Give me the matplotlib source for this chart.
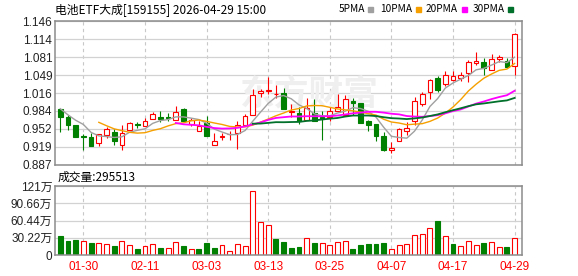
import matplotlib
matplotlib.use("Agg")
import matplotlib.pyplot as plt
import numpy as np
import pandas as pd
from matplotlib.patches import Rectangle

plt.rcParams["font.family"] = ["Liberation Sans", "Noto Sans CJK SC"]

title = "电池ETF大成[159155] 2026-04-29 15:00"
volume_text = "成交量:295513"

# closes of the 4 sessions before the visible window (needed for the MAs)
pre_close = [1.013, 0.986, 0.976, 0.992]

opens = [0.988, 0.973, 0.958, 0.9388, 0.9365, 0.9257, 0.9413, 0.9467, 0.9233, 0.9491,
         0.9600, 0.9576, 0.9702, 0.9732, 0.9732, 0.9684, 0.9877, 0.9612, 0.9473, 0.9624,
         0.9227, 0.9377, 0.9419, 0.9443, 0.9594, 0.9762, 1.016, 1.0196, 1.0142, 1.016,
         0.9823, 0.9804, 0.9684, 0.9798, 0.9738, 0.9738, 0.9847, 0.9774, 1.0015, 0.9985,
         0.9654, 0.9606, 0.9383, 0.913, 0.9293, 0.9486, 0.9654, 0.9967, 1.0178, 1.0437,
         1.0328, 1.0394, 1.0437, 1.0527, 1.0714, 1.0726, 1.0587, 1.0786, 1.0738, 1.0647]
highs = [0.988, 0.976, 0.958, 0.943, 0.944, 0.942, 0.9558, 0.9516, 0.9582, 0.9648,
         0.9648, 0.9714, 0.9816, 0.9835, 0.9798, 0.9931, 0.9895, 0.9714, 0.9654, 0.9744,
         0.9443, 0.9443, 0.9473, 0.9654, 0.9786, 1.0238, 1.0238, 1.0449, 1.0316, 1.0256,
         0.9967, 0.9907, 1.0075, 1.0057, 0.9835, 0.9907, 1.0148, 1.0136, 1.0075, 0.9985,
         0.9684, 0.961, 0.9461, 0.9281, 0.9534, 0.9636, 1.0093, 1.0184, 1.0425, 1.0467,
         1.0557, 1.0557, 1.0545, 1.0756, 1.0906, 1.0798, 1.087, 1.0846, 1.0798, 1.1249]
lows = [0.946, 0.949, 0.937, 0.913, 0.920, 0.9215, 0.9353, 0.9227, 0.9142, 0.949,
        0.9534, 0.957, 0.970, 0.9636, 0.9666, 0.968, 0.965, 0.9576, 0.947, 0.938,
        0.9225, 0.9323, 0.931, 0.916, 0.959, 0.976, 1.0087, 1.0148, 1.0075, 0.988,
        0.9726, 0.9606, 0.968, 0.9654, 0.9323, 0.9654, 0.984, 0.977, 0.9774, 0.962,
        0.9486, 0.9305, 0.9124, 0.9082, 0.929, 0.9401, 0.9582, 0.9925, 1.0063, 1.0184,
        1.0286, 1.039, 1.0376, 1.0358, 1.0665, 1.0497, 1.058, 1.0726, 1.0617, 1.0485]
closes = [0.973, 0.958, 0.9372, 0.9378, 0.9203, 0.942, 0.9516, 0.9293, 0.9437, 0.9618,
          0.9588, 0.9654, 0.9786, 0.969, 0.9708, 0.9829, 0.9654, 0.9672, 0.9564, 0.9383,
          0.9293, 0.9389, 0.9431, 0.9582, 0.9744, 1.0136, 1.0202, 1.022, 1.0154, 0.9883,
          0.9841, 0.9654, 0.9895, 0.9666, 0.9702, 0.9847, 0.9907, 1.0057, 0.9985, 0.9624,
          0.9594, 0.9383, 0.9142, 0.9172, 0.9516, 0.9534, 1.0015, 1.0148, 1.0394, 1.0226,
          1.0485, 1.048, 1.049, 1.0726, 1.0738, 1.0617, 1.0774, 1.081, 1.0629, 1.1231]
# volume in 万 (10k shares)
volumes = [33.3, 25.1, 26.3, 24.5, 21.0, 21.0, 19.3, 15.8, 24.5, 16.9,
           10.5, 15.2, 18.7, 12.3, 11.7, 22.2, 15.8, 10.5, 10.5, 21.0,
           12.3, 16.9, 6.4, 18.7, 15.8, 111.5, 57.2, 52.0, 28.0, 23.4,
           12.3, 14.0, 29.2, 21.0, 20.4, 16.9, 22.8, 24.5, 10.5, 17.5,
           19.3, 19.3, 21.0, 10.5, 16.9, 19.3, 34.5, 36.8, 46.7, 59.6,
           32.7, 19.3, 15.2, 24.5, 16.9, 21.0, 22.8, 14.0, 14.0, 29.55]

date_ticks = [3, 11, 19, 27, 35, 43, 51, 59]
date_labels = ["01-30", "02-11", "03-03", "03-13", "03-25", "04-07", "04-17", "04-29"]
price_ticks = [1.146, 1.114, 1.081, 1.049, 1.016, 0.984, 0.952, 0.919, 0.887]
vol_ticks = [0, 30.22, 60.44, 90.66, 120.88]
vol_labels = ["0", "30.22万", "60.44万", "90.66万", "121万"]

ma_windows = [5, 10, 20, 30]
ma_names = ["5PMA", "10PMA", "20PMA", "30PMA"]
ma_colors = ["#a0a0a0", "#f5a000", "#ff00ff", "#00702a"]

RED = "#ff0000"
GREEN = "#008000"
GRID = "#d2d2d2"
FRAME = "#8c8c8c"

W, H = 578, 276
fig = plt.figure(figsize=(W / 100, H / 100), dpi=100)
ax = fig.add_axes([55 / W, 1 - 164.7 / H, 467 / W, 143.4 / H])
axv = fig.add_axes([55 / W, 1 - 255 / H, 467 / W, 69 / H])

x = np.arange(len(closes))
o = np.array(opens)
c = np.array(closes)
up = c >= o
prev_close = np.array(pre_close[-1:] + closes[:-1])
vol_up = c >= prev_close

# candles
ax.vlines(x, lows, highs, colors=np.where(up, RED, GREEN), linewidth=0.8, zorder=2)
body_h = np.maximum(np.abs(c - o), 0.0012)
ax.bar(x, body_h, bottom=np.minimum(o, c), width=0.62,
       color=np.where(up, "white", GREEN), edgecolor=np.where(up, RED, GREEN),
       linewidth=0.8, zorder=2.5)

# moving averages
all_close = pd.Series(pre_close + closes)
for w, col in zip(ma_windows, ma_colors):
    ma = all_close.rolling(w).mean().iloc[len(pre_close):].to_numpy()
    ax.plot(x, ma, color=col, linewidth=1.0 if w < 20 else 1.3, zorder=3)

# volume
axv.bar(x, volumes, width=0.64, color=np.where(vol_up, "white", GREEN),
        edgecolor=np.where(vol_up, RED, GREEN), linewidth=0.8, zorder=2)

for a in (ax, axv):
    a.set_xlim(-0.69, 59.96)
    a.set_axisbelow(True)
    a.grid(axis="y", color=GRID, linewidth=0.9)
    for t in date_ticks:
        a.axvline(t, color="#c8c8c8", linewidth=0.8, linestyle=(0, (3, 3)), zorder=0.5)
    for s in a.spines.values():
        s.set_color(FRAME)
        s.set_linewidth(1.1)
    a.tick_params(length=0, labelsize=8.5, colors="#222222", pad=2)

ax.set_ylim(price_ticks[-1], price_ticks[0])
ax.set_yticks(price_ticks)
ax.set_yticklabels([f"{v:.3f}" for v in price_ticks])
ax.set_xticks([])

axv.set_ylim(0, vol_ticks[-1])
axv.set_yticks(vol_ticks)
axv.set_yticklabels(vol_labels)
axv.set_xticks(date_ticks)
axv.set_xticklabels(date_labels, color=RED)
axv.tick_params(axis="x", pad=4)

# watermark
ax.text(309 / W, 1 - 94.5 / H, "东方财富", transform=fig.transFigure, fontsize=25,
        fontweight="bold", color="#efefef", ha="center", va="center",
        family=["Noto Sans CJK SC"], zorder=0.6)

# header
fig.text(55 / W, 1 - 9.3 / H, title, fontsize=8.5, va="center",
         family=["Noto Sans CJK SC", "DejaVu Sans"])
legend_x = [339, 380, 426, 473]
square_x = [368, 416, 462, 508]
for name, col, lx, sx in zip(ma_names, ma_colors, legend_x, square_x):
    fig.text(lx / W, 1 - 9.3 / H, name, fontsize=7.3, va="center",
             family=["Noto Sans CJK SC", "DejaVu Sans"])
    fig.add_artist(Rectangle((sx / W, 1 - 11.5 / H), 5 / W, 4.5 / H, color=col,
                             transform=fig.transFigure))

fig.text(58 / W, 1 - 177.5 / H, volume_text, fontsize=8.5, va="center",
         family=["Noto Sans CJK SC", "DejaVu Sans"])

fig.savefig("out.png", dpi=100)
